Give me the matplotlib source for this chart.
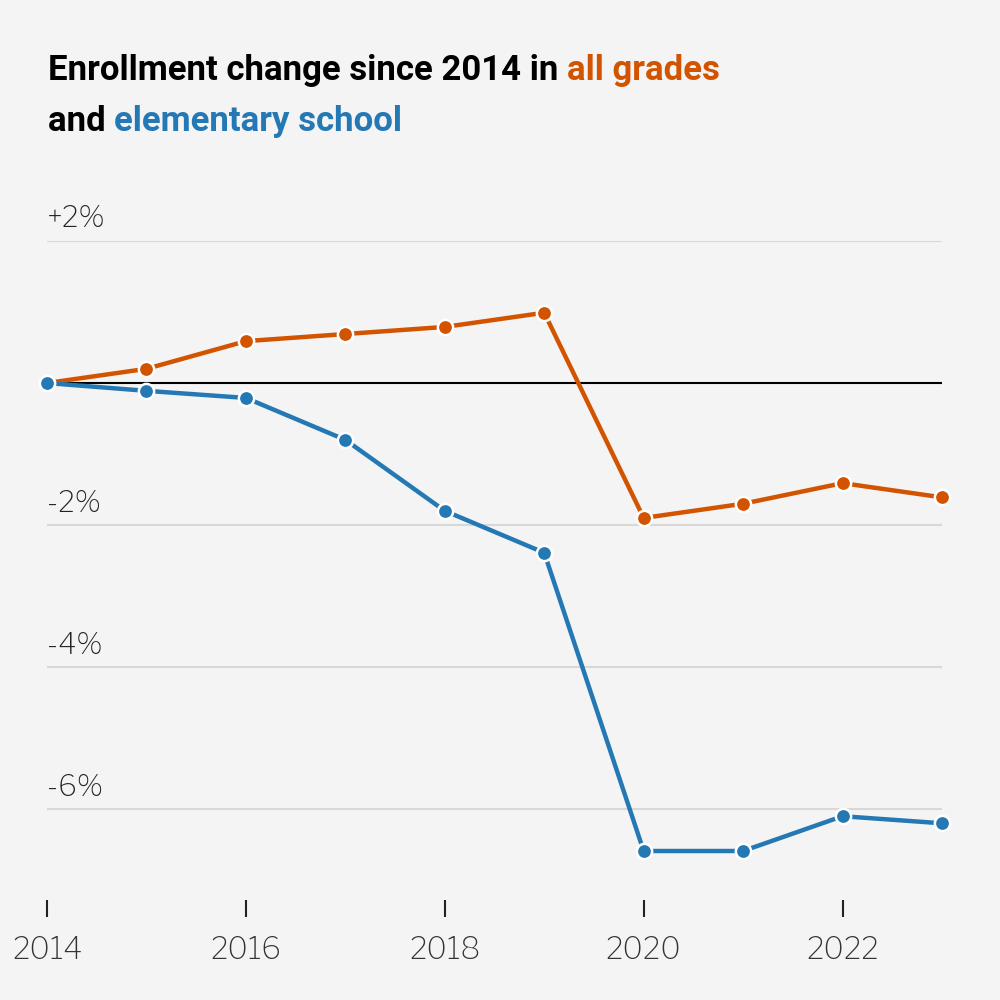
import matplotlib
matplotlib.use("Agg")
import matplotlib.pyplot as plt

years = [2014, 2015, 2016, 2017, 2018, 2019, 2020, 2021, 2022, 2023]
all_grades = [0.0, 0.2, 0.59, 0.69, 0.79, 0.99, -1.90, -1.70, -1.41, -1.61]
elementary = [0.0, -0.11, -0.21, -0.80, -1.80, -2.39, -6.59, -6.59, -6.10, -6.20]
y_ticks = [2, -2, -4, -6]
y_labels = ["+2%", "-2%", "-4%", "-6%"]
x_ticks = [2014, 2016, 2018, 2020, 2022]

ORANGE = "#d35400"
BLUE = "#2479b5"
BG = "#f4f4f4"

plt.rcParams["font.family"] = ["Libre Franklin", "Roboto", "DejaVu Sans"]

fig = plt.figure(figsize=(10, 10), dpi=100, facecolor=BG)
ax = fig.add_axes([0.047, 0.10, 0.895, 0.659])
ax.set_facecolor(BG)
ax.set_xlim(2014, 2023)
ax.set_ylim(-7.28, 2.0)

for t in y_ticks:
    ax.axhline(t, color="#d8d8d8", lw=1.5, zorder=1)
ax.axhline(0, color="black", lw=1.5, zorder=2)

for vals, col in [(all_grades, ORANGE), (elementary, BLUE)]:
    ax.plot(years, vals, color=col, lw=3.2, marker="o", ms=11,
            markeredgecolor="white", markeredgewidth=1.8, zorder=3, clip_on=False)

for t, lab in zip(y_ticks, y_labels):
    ax.text(2014, t + 0.12, lab, fontsize=21, color="#222222", ha="left", va="bottom")

for s in ax.spines.values():
    s.set_visible(False)
ax.set_yticks([])
ax.set_xticks(x_ticks)
ax.set_xticklabels([str(x) for x in x_ticks], fontsize=22, color="#333333")
ax.tick_params(axis="x", length=12, width=1.5, color="#222222", pad=14)

# title with coloured words
fig.canvas.draw()
renderer = fig.canvas.get_renderer()
lines = [
    [("Enrollment change since 2014 in ", "black"), ("all grades", ORANGE)],
    [("and ", "black"), ("elementary school", BLUE)],
]
y0 = 0.92
for line in lines:
    x = 0.048
    for txt, col in line:
        t = fig.text(x, y0, txt, fontsize=25, fontweight="bold", color=col,
                     va="baseline", family=["Roboto", "DejaVu Sans"])
        bb = t.get_window_extent(renderer)
        x += bb.width / fig.bbox.width
    y0 -= 0.051

fig.savefig("out.png", dpi=100, facecolor=BG)
